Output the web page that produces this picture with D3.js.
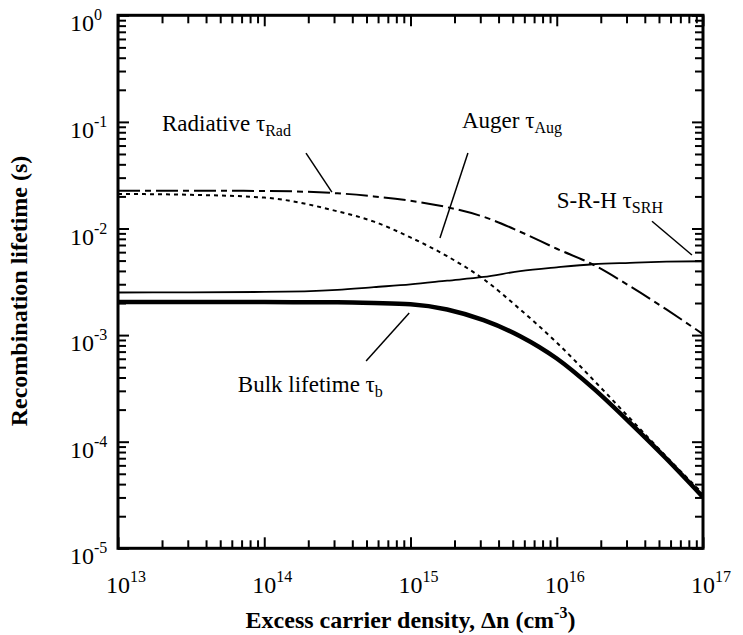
<!DOCTYPE html>
<html>
<head>
<meta charset="utf-8">
<script src="https://cdn.jsdelivr.net/npm/d3@7"></script>
<style>
body { margin: 0; background: #fff; }
svg text { font-family: "Liberation Serif", "Times New Roman", serif; fill: #000; }
</style>
</head>
<body>
<div id="chart-area"></div>
<script>
var width = 743;
var height = 635;

// excess carrier density (cm^-3)
var density = [1e13, 3.16e13, 1e14, 3.16e14, 5.62e14, 1e15, 1.78e15, 3.16e15, 5.62e15, 1e16, 1.78e16, 3.16e16, 5.62e16, 1e17];
// lifetimes (s)
var tauRad  = [0.0226, 0.0226, 0.0225, 0.0214, 0.0200, 0.0182, 0.01585, 0.01288, 0.00933, 0.00646, 0.00457, 0.00288, 0.00174, 0.00102];
var tauAug  = [0.0211, 0.0207, 0.0195, 0.0145, 0.0116, 0.00824, 0.00550, 0.00335, 0.00174, 0.000851, 0.000380, 0.000166, 7.24e-5, 3.24e-5];
var tauSRH  = [0.00251, 0.00252, 0.00254, 0.00266, 0.00282, 0.00299, 0.00324, 0.00351, 0.00398, 0.00432, 0.00462, 0.00476, 0.00488, 0.00493];
var tauBulk = [0.00204, 0.00204, 0.00204, 0.00203, 0.00200, 0.00195, 0.00174, 0.00138, 0.000977, 0.000603, 0.000316, 0.000151, 6.92e-5, 3.02e-5];

var xDecades = [1e13, 1e14, 1e15, 1e16, 1e17];
var xExp = ["13", "14", "15", "16", "17"];
var yDecades = [1, 1e-1, 1e-2, 1e-3, 1e-4, 1e-5];
var yExp = ["0", "-1", "-2", "-3", "-4", "-5"];

// annotation labels: text start, leader from, leader to (data coords)
var labels = [
    {main: "Radiative τ", sub: "Rad", at: [2.0e13, 0.082], from: [1.93e14, 0.051], to: [2.9e14, 0.0219]},
    {main: "Auger τ", sub: "Aug", at: [2.25e15, 0.0877], from: [2.47e15, 0.051], to: [1.59e15, 0.00815]},
    {main: "S-R-H τ", sub: "SRH", at: [1.0e16, 0.0156], from: [4.48e16, 0.0117], to: [8.4e16, 0.00564]},
    {main: "Bulk lifetime τ", sub: "b", at: [6.6e13, 0.000292], from: [9.8e14, 0.00161], to: [4.97e14, 0.000571]}
];

var plotL = 118, plotR = 703, plotT = 15.3, plotB = 548.3;

var svg = d3.select("#chart-area").append("svg")
    .attr("width", width)
    .attr("height", height);

var x = d3.scaleLog().domain([1e13, 1e17]).range([plotL, plotR]);
var y = d3.scaleLog().domain([1e-5, 1]).range([plotB, plotT]);

svg.append("clipPath").attr("id", "plot")
    .append("rect")
    .attr("x", plotL).attr("y", plotT)
    .attr("width", plotR - plotL).attr("height", plotB - plotT);

// curves
var line = d3.line()
    .x((d) => x(d[0]))
    .y((d) => y(d[1]))
    .curve(d3.curveMonotoneX);

var series = [
    {vals: tauAug, w: 2, dash: "4,4"},
    {vals: tauRad, w: 2, dash: "22,5,6,5"},
    {vals: tauSRH, w: 1.8, dash: null},
    {vals: tauBulk, w: 4.5, dash: null}
];

var g = svg.append("g").attr("clip-path", "url(#plot)");
series.forEach((s) => {
    g.append("path")
        .datum(density.map((d, i) => [d, s.vals[i]]))
        .attr("d", line)
        .attr("fill", "none")
        .attr("stroke", "#000")
        .attr("stroke-width", s.w)
        .attr("stroke-dasharray", s.dash);
});

// ticks on all four sides, pointing in
var isMajor = (d) => Math.abs(Math.log10(d) - Math.round(Math.log10(d))) < 1e-6;
var xMinor = x.ticks().filter((d) => !isMajor(d));
var yMinor = y.ticks().filter((d) => !isMajor(d));

function drawAxis(axis, tx, ty) {
    var a = svg.append("g").attr("transform", "translate(" + tx + "," + ty + ")").call(axis);
    a.select(".domain").remove();
    a.selectAll("text").remove();
    a.selectAll("line").attr("stroke", "#000").attr("stroke-width", 2);
}

[[xMinor, 8], [xDecades, 11]].forEach((t) => {
    drawAxis(d3.axisBottom(x).tickValues(t[0]).tickSize(-t[1]), 0, plotB);
    drawAxis(d3.axisTop(x).tickValues(t[0]).tickSize(-t[1]), 0, plotT);
});
[[yMinor, 8], [yDecades, 11]].forEach((t) => {
    drawAxis(d3.axisLeft(y).tickValues(t[0]).tickSize(-t[1]), plotL, 0);
    drawAxis(d3.axisRight(y).tickValues(t[0]).tickSize(-t[1]), plotR, 0);
});

svg.append("rect")
    .attr("x", plotL).attr("y", plotT)
    .attr("width", plotR - plotL).attr("height", plotB - plotT)
    .attr("fill", "none")
    .attr("stroke", "#000")
    .attr("stroke-width", 3);

// tick labels 10^n
xDecades.forEach((d, i) => {
    var t = svg.append("text")
        .attr("x", x(d) - 12)
        .attr("y", 593)
        .attr("font-size", 24);
    t.append("tspan").text("10");
    t.append("tspan").attr("font-size", 16).attr("dy", -11).text(xExp[i]);
});
yDecades.forEach((d, i) => {
    var t = svg.append("text")
        .attr("x", 70)
        .attr("y", y(d) + 16)
        .attr("font-size", 24);
    t.append("tspan").text("10");
    t.append("tspan").attr("font-size", 16).attr("dy", -11).text(yExp[i]);
});

// axis titles
var xt = svg.append("text")
    .attr("x", (plotL + plotR) / 2)
    .attr("y", 628)
    .attr("text-anchor", "middle")
    .attr("font-size", 24)
    .attr("font-weight", "bold");
xt.append("tspan").text("Excess carrier density, Δn (cm");
xt.append("tspan").attr("font-size", 16).attr("dy", -10).text("-3");
xt.append("tspan").attr("dy", 10).text(")");

svg.append("text")
    .attr("transform", "translate(27,291) rotate(-90)")
    .attr("text-anchor", "middle")
    .attr("font-size", 24)
    .attr("font-weight", "bold")
    .text("Recombination lifetime (s)");

// annotations
labels.forEach((l) => {
    svg.append("line")
        .attr("x1", x(l.from[0])).attr("y1", y(l.from[1]))
        .attr("x2", x(l.to[0])).attr("y2", y(l.to[1]))
        .attr("stroke", "#000")
        .attr("stroke-width", 1.5);
    var t = svg.append("text")
        .attr("x", x(l.at[0]))
        .attr("y", y(l.at[1]))
        .attr("font-size", 23);
    t.append("tspan").text(l.main);
    t.append("tspan").attr("font-size", 16).attr("dy", 5).text(l.sub);
});
</script>
</body>
</html>
